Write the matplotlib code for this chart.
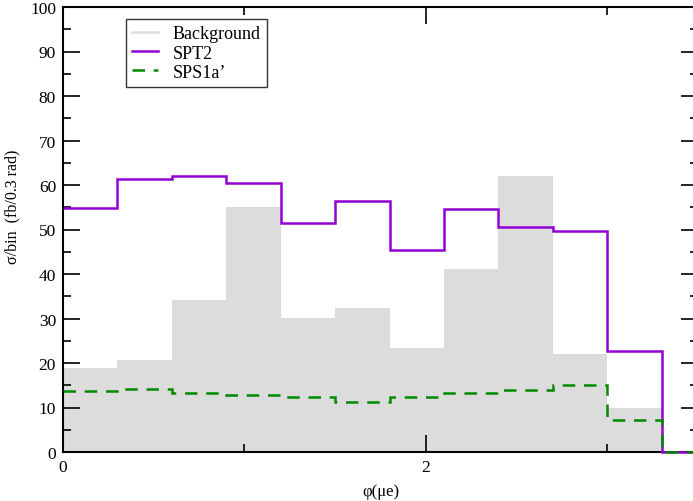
import numpy as np
import matplotlib
matplotlib.use("Agg")
import matplotlib.pyplot as plt
from matplotlib.ticker import MultipleLocator

# bin edges in phi (rad), width 0.3
edges = np.round(np.arange(0, 3.61, 0.3), 2)

background = [18.8, 20.7, 34.1, 55.1, 30.1, 32.4, 23.4, 41.2, 62.0, 22.0, 9.8, 0.0]
spt2 = [54.9, 61.4, 62.0, 60.4, 51.4, 56.3, 45.5, 54.7, 50.6, 49.6, 22.8, 0.0]
sps1a = [13.7, 14.2, 13.2, 12.7, 12.4, 11.3, 12.4, 13.2, 13.9, 15.1, 7.3, 0.0]

plt.rcParams['font.family'] = ['Liberation Serif', 'DejaVu Serif']

fig = plt.figure(figsize=(6.93, 5.02), dpi=100)
ax = fig.add_axes([63 / 693, 1 - 453 / 502, 635 / 693, 445 / 502])

ax.stairs(background, edges, fill=True, color='#dcdcdc', zorder=1)
ax.stairs(spt2, edges, color='#9400d3', lw=1.8, baseline=None, zorder=3,
          clip_on=False)
ax.stairs(sps1a, edges, color='#008a00', lw=1.8, ls=(0, (5, 3.5)),
          baseline=None, zorder=4, clip_on=False)

# legend proxies
ax.plot([], [], color='#dcdcdc', lw=1.8, label='Background')
ax.plot([], [], color='#9400d3', lw=1.8, label='SPT2')
ax.plot([], [], color='#008a00', lw=1.8, ls=(0, (5, 3.5)), label="SPS1a’")
leg = ax.legend(loc='upper left', bbox_to_anchor=(0.099, 0.973), fontsize=13,
                fancybox=False, framealpha=1, edgecolor='#333333',
                borderaxespad=0, borderpad=0.35, labelspacing=0.12,
                handlelength=1.45, handletextpad=0.8)
leg.get_frame().set_linewidth(1.0)

ax.set_xlim(0, 3.5)
ax.set_ylim(0, 100)
ax.xaxis.set_major_locator(MultipleLocator(2))
ax.xaxis.set_minor_locator(MultipleLocator(1))
ax.yaxis.set_major_locator(MultipleLocator(10))
ax.yaxis.set_minor_locator(MultipleLocator(5))
ax.tick_params(which='both', direction='in', top=True, right=True,
               labelsize=12.5, width=1.2, pad=5)
ax.tick_params(which='major', length=12)
ax.tick_params(which='minor', length=6)
for s in ax.spines.values():
    s.set_linewidth(1.5)

ax.set_xlabel('φ(μe)', fontsize=12, labelpad=6)
ax.set_ylabel('σ/bin  (fb/0.3 rad)', fontsize=11.5)
ax.yaxis.set_label_coords(-0.067, 0.553)

fig.savefig('out.png', dpi=100)
